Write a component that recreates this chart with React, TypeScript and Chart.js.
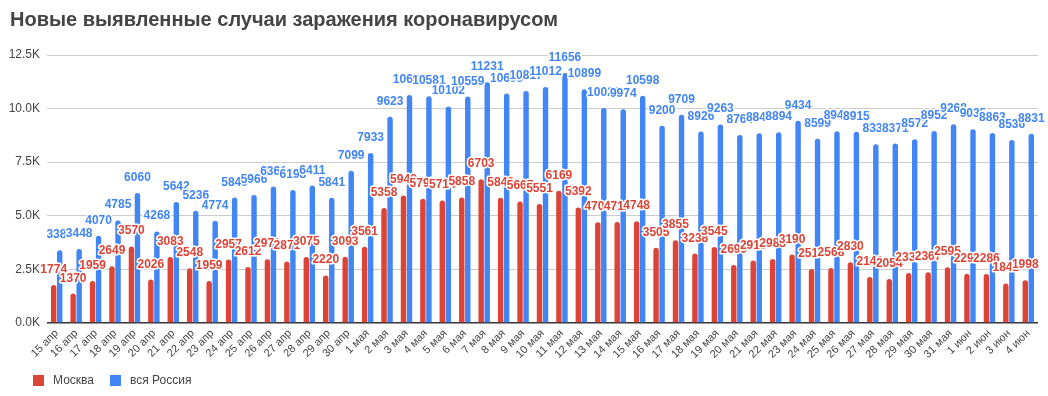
import React, { useEffect, useRef } from 'react';
import { Chart, registerables } from 'chart.js';

Chart.register(...registerables);

const TITLE = 'Новые выявленные случаи заражения коронавирусом';

const categories = [
  '15 апр', '16 апр', '17 апр', '18 апр', '19 апр', '20 апр', '21 апр', '22 апр',
  '23 апр', '24 апр', '25 апр', '26 апр', '27 апр', '28 апр', '29 апр', '30 апр',
  '1 мая', '2 мая', '3 мая', '4 мая', '5 мая', '6 мая', '7 мая', '8 мая', '9 мая',
  '10 мая', '11 мая', '12 мая', '13 мая', '14 мая', '15 мая', '16 мая', '17 мая',
  '18 мая', '19 мая', '20 мая', '21 мая', '22 мая', '23 мая', '24 мая', '25 мая',
  '26 мая', '27 мая', '28 мая', '29 мая', '30 мая', '31 мая',
  '1 июн', '2 июн', '3 июн', '4 июн',
];

const moscow = [
  1774, 1370, 1959, 2649, 3570, 2026, 3083, 2548, 1959, 2957, 2612, 2971, 2871, 3075, 2220, 3093,
  3561, 5358, 5948, 5795, 5714, 5858, 6703, 5846, 5667, 5551, 6169, 5392, 4703, 4712, 4748,
  3505, 3855, 3238, 3545, 2699, 2913, 2988, 3190, 2516, 2568, 2830, 2140, 2054, 2332, 2367, 2595,
  2297, 2286, 1842, 1998,
];

const russia = [
  3388, 3448, 4070, 4785, 6060, 4268, 5642, 5236, 4774, 5849, 5966, 6361, 6198, 6411, 5841, 7099,
  7933, 9623, 10633, 10581, 10102, 10559, 11231, 10699, 10817, 11012, 11656, 10899, 10028, 9974, 10598,
  9200, 9709, 8926, 9263, 8764, 8849, 8894, 9434, 8599, 8946, 8915, 8338, 8371, 8572, 8952, 9268,
  9035, 8863, 8536, 8831,
];

const seriesNames = ['Москва', 'вся Россия'];
const yTickValues = [0, 2500, 5000, 7500, 10000, 12500];

const RED = '#db4437';
const BLUE = '#4285f4';
const FONT = '"Liberation Sans", Arial, sans-serif';

const labelPlugin = {
  id: 'barLabels',
  afterDatasetsDraw(chart: any) {
    const ctx = chart.ctx;
    ctx.save();
    ctx.font = 'bold 12px ' + FONT;
    ctx.textAlign = 'center';
    ctx.textBaseline = 'alphabetic';
    ctx.lineJoin = 'round';
    ctx.lineWidth = 3;
    ctx.strokeStyle = '#ffffff';
    [1, 0].forEach((di) => {
      const meta = chart.getDatasetMeta(di);
      const ds = chart.data.datasets[di];
      meta.data.forEach((bar: any, i: number) => {
        const txt = String(ds.data[i]);
        const x = bar.x;
        const y = bar.y - 12;
        ctx.strokeText(txt, x, y);
        ctx.fillStyle = ds.backgroundColor;
        ctx.fillText(txt, x, y);
      });
    });
    ctx.restore();
  },
};

export default function App() {
  const canvasRef = useRef<HTMLCanvasElement | null>(null);

  useEffect(() => {
    if (!canvasRef.current) return;
    const chart = new Chart(canvasRef.current, {
      type: 'bar',
      data: {
        labels: categories,
        datasets: [
          {
            label: seriesNames[0],
            data: moscow,
            backgroundColor: RED,
            borderRadius: 3,
            borderSkipped: 'start',
            categoryPercentage: 0.62,
            barPercentage: 0.9,
          },
          {
            label: seriesNames[1],
            data: russia,
            backgroundColor: BLUE,
            borderRadius: 3,
            borderSkipped: 'start',
            categoryPercentage: 0.62,
            barPercentage: 0.9,
          },
        ],
      },
      options: {
        animation: false,
        responsive: false,
        maintainAspectRatio: false,
        layout: { padding: { left: 2, right: 10, top: 55, bottom: 31 } },
        plugins: {
          title: { display: false },
          tooltip: { enabled: false },
          legend: { display: false },
        },
        scales: {
          x: {
            grid: { display: false, drawTicks: false },
            border: { display: false },
            ticks: {
              minRotation: 45,
              maxRotation: 45,
              autoSkip: false,
              padding: 4,
              color: '#444',
              font: { size: 11, family: FONT },
            },
          },
          y: {
            min: 0,
            max: 12500,
            afterFit: (scale: any) => { scale.width = 45; },
            afterBuildTicks: (scale: any) => {
              scale.ticks = yTickValues.map((v) => ({ value: v }));
            },
            border: { display: false },
            grid: {
              drawTicks: false,
              color: (c: any) => (c.tick && c.tick.value === 0 ? '#333333' : '#cccccc'),
              lineWidth: (c: any) => (c.tick && c.tick.value === 0 ? 1.5 : 1),
            },
            ticks: {
              padding: 7,
              color: '#444',
              font: { size: 12, family: FONT },
              callback: (v: any) => (Number(v) / 1000).toFixed(1) + 'K',
            },
          },
        },
      },
      plugins: [labelPlugin],
    });
    return () => chart.destroy();
  }, []);

  const legendItem = (color: string, text: string, left: number) => (
    <div
      style={{
        position: 'absolute',
        left,
        top: 373,
        display: 'flex',
        alignItems: 'center',
        fontFamily: FONT,
        fontSize: 12,
        color: '#444',
        whiteSpace: 'nowrap',
        lineHeight: '14px',
      }}
    >
      <span style={{ display: 'inline-block', width: 11, height: 11, background: color, marginRight: 9 }} />
      <span>{text}</span>
    </div>
  );

  return (
    <div style={{ position: 'fixed', left: 0, top: 0, width: 1048, height: 396, background: '#fff' }}>
      <canvas ref={canvasRef} width={1048} height={396} style={{ display: 'block' }} />
      <div
        style={{
          position: 'absolute',
          left: 10,
          top: 7,
          fontFamily: FONT,
          fontWeight: 'bold',
          fontSize: 20,
          color: '#444',
          whiteSpace: 'nowrap',
          lineHeight: '24px',
        }}
      >
        {TITLE}
      </div>
      {legendItem(RED, seriesNames[0], 33)}
      {legendItem(BLUE, seriesNames[1], 110)}
    </div>
  );
}
